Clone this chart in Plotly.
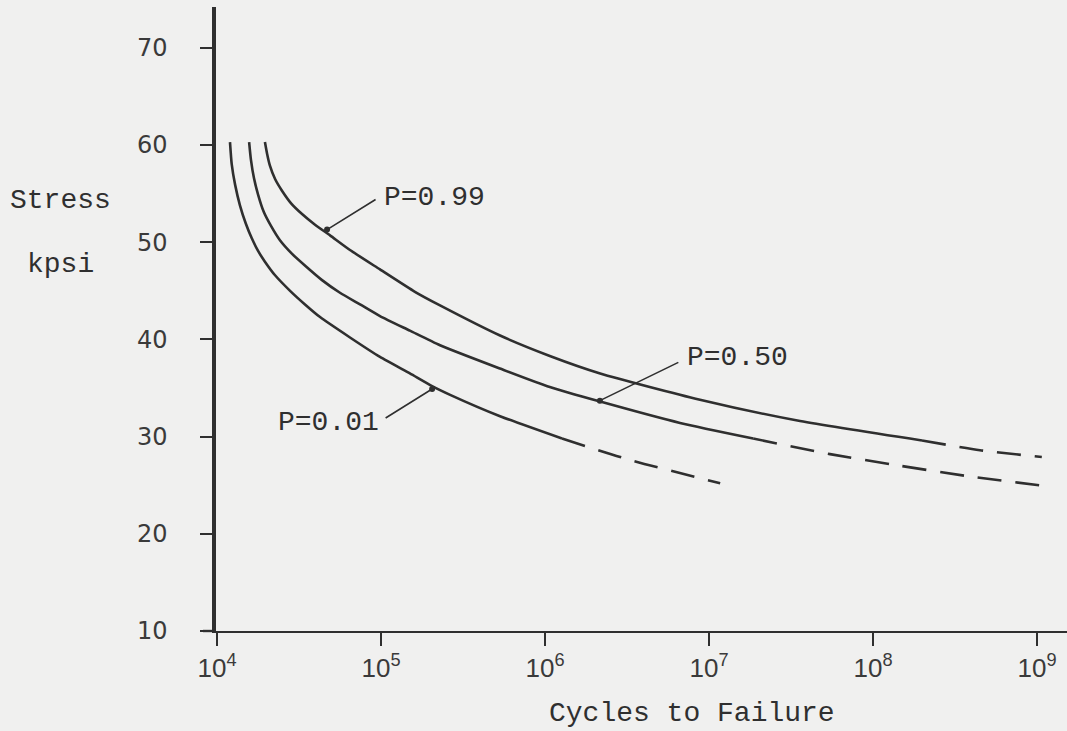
import numpy as np
import plotly.graph_objects as go

# S-N curves: stress (kpsi) against cycles to failure, for three survival probabilities
n_p01 = [1.20e4, 1.23e4, 1.29e4, 1.38e4, 1.50e4, 1.63e4, 1.78e4, 1.96e4, 2.26e4, 2.79e4,
         3.44e4, 4.25e4, 6.47e4, 9.86e4, 1.50e5, 2.05e5, 2.64e5, 5.32e5, 1.27e6]
s_p01 = [60.3, 58.0, 55.9, 53.8, 51.9, 50.4, 49.1, 48.0, 46.6, 45.0,
         43.6, 42.3, 40.2, 38.2, 36.5, 35.2, 34.3, 32.1, 29.8]
n_p01_ext = [1.27e6, 3.30e6, 1.17e7]
s_p01_ext = [29.8, 27.6, 25.2]

n_p50 = [1.57e4, 1.61e4, 1.68e4, 1.78e4, 1.93e4, 2.13e4, 2.42e4, 2.87e4, 3.49e4, 4.37e4,
         5.62e4, 7.45e4, 9.86e4, 1.50e5, 2.29e5, 5.32e5, 1.07e6, 2.17e6, 6.66e6, 1.86e7]
s_p50 = [60.3, 58.5, 56.6, 54.9, 53.1, 51.7, 50.2, 48.8, 47.5, 46.1,
         44.8, 43.6, 42.4, 40.9, 39.4, 37.0, 35.1, 33.6, 31.4, 29.8]
n_p50_ext = [1.86e7, 5.47e7, 1.46e8, 3.90e8, 1.15e9]
s_p50_ext = [29.8, 28.2, 27.0, 25.9, 24.9]

n_p99 = [1.96e4, 2.02e4, 2.10e4, 2.26e4, 2.49e4, 2.83e4, 3.30e4, 3.96e4, 4.89e4, 6.47e4,
         9.86e4, 1.61e5, 2.29e5, 5.32e5, 1.07e6, 2.17e6, 8.81e6, 3.59e7, 1.99e8]
s_p99 = [60.3, 59.1, 57.9, 56.5, 55.3, 54.0, 52.9, 51.8, 50.7, 49.2,
         47.2, 44.9, 43.5, 40.4, 38.3, 36.5, 33.8, 31.6, 29.6]
n_p99_ext = [1.99e8, 4.49e8, 1.07e9]
s_p99_ext = [29.6, 28.6, 27.9]

x_tick_vals = [1e4, 1e5, 1e6, 1e7, 1e8, 1e9]
x_tick_text = ["10<sup>4</sup>", "10<sup>5</sup>", "10<sup>6</sup>", "10<sup>7</sup>",
               "10<sup>8</sup>", "10<sup>9</sup>"]
y_tick_vals = [10, 20, 30, 40, 50, 60, 70]

# curve labels and the point on each curve their leader touches
label_text = ["P=0.99", "P=0.50", "P=0.01"]
label_n = [4.69e4, 2.16e6, 2.05e5]
label_s = [51.3, 33.7, 34.9]

# leader tail and label centre, as pixel offsets from that point
leader_dx = [50, 80, -48]
leader_dy = [-31, -39, 30]
text_dx = [107, 138, -104]
text_dy = [-32, -43, 34]

INK = "#2f2f2f"
BG = "#f0f0ef"
MONO = "Liberation Mono, Courier New, monospace"

fig = go.Figure()

def add_curve(xs, ys, dashed=False):
    fig.add_trace(go.Scatter(
        x=xs, y=ys, mode="lines",
        line=dict(color=INK, width=2.6, shape="spline", smoothing=0.6,
                  dash="24px,14px" if dashed else "solid"),
        hoverinfo="skip", showlegend=False))

add_curve(n_p01, s_p01)
add_curve(n_p01_ext, s_p01_ext, dashed=True)
add_curve(n_p50, s_p50)
add_curve(n_p50_ext, s_p50_ext, dashed=True)
add_curve(n_p99, s_p99)
add_curve(n_p99_ext, s_p99_ext, dashed=True)

# dots where the label leaders touch the curves
fig.add_trace(go.Scatter(
    x=label_n, y=label_s, mode="markers",
    marker=dict(color=INK, size=6), hoverinfo="skip", showlegend=False))

annotations = []
for text, nx, sy, lx, ly, tx, ty in zip(label_text, label_n, label_s,
                                         leader_dx, leader_dy, text_dx, text_dy):
    # leader line
    annotations.append(dict(
        x=np.log10(nx), y=sy, xref="x", yref="y", text="",
        showarrow=True, ax=lx, ay=ly, arrowhead=0,
        arrowwidth=1.6, arrowcolor=INK, standoff=0, startstandoff=0))
    # label text
    annotations.append(dict(
        x=np.log10(nx), y=sy, xref="x", yref="y", text=text,
        xshift=tx, yshift=-ty, showarrow=False,
        xanchor="center", yanchor="middle",
        font=dict(family=MONO, size=28, color=INK)))

# plot-area geometry in pixels
L, R, T, B = 216, 0, 7, 100
W, H = 1067, 731
pw, ph = W - L - R, H - T - B

def paper_x(px):
    return (px - L) / pw

def paper_y(py):
    return (H - py - B) / ph

# axis titles
for text, px, py in [("Stress", 60, 200), ("kpsi", 60, 264), ("Cycles to Failure", 692, 713)]:
    annotations.append(dict(
        x=paper_x(px), y=paper_y(py), xref="paper", yref="paper", text=text,
        xanchor="center", yanchor="middle", showarrow=False,
        font=dict(family=MONO, size=28, color=INK)))

# x-axis line runs a little past the y axis on the left
shapes = [dict(type="line", xref="paper", yref="paper",
               x0=-13 / pw, x1=0, y0=0, y1=0,
               line=dict(color=INK, width=2.4))]

fig.update_layout(
    width=W, height=H,
    margin=dict(l=L, r=R, t=T, b=B, pad=0),
    paper_bgcolor=BG, plot_bgcolor=BG,
    showlegend=False,
    annotations=annotations,
    shapes=shapes,
    xaxis=dict(
        type="log", range=[np.log10(1e4) - 1 / 164, 9.183],
        tickmode="array", tickvals=x_tick_vals, ticktext=x_tick_text,
        ticks="outside", ticklen=13, tickwidth=2, tickcolor=INK,
        showline=True, linecolor=INK, linewidth=2.4,
        showgrid=False, zeroline=False,
        tickfont=dict(family="Liberation Sans, Arial, sans-serif", size=26, color="#3a3a3a"),
    ),
    yaxis=dict(
        range=[10, 74.2],
        tickmode="array", tickvals=y_tick_vals,
        ticks="outside", ticklen=12, tickwidth=2.4, tickcolor=INK,
        ticklabelstandoff=28,
        showline=True, linecolor=INK, linewidth=3.5,
        showgrid=False, zeroline=False,
        tickfont=dict(family="DejaVu Sans, sans-serif", size=24, color="#3a3a3a"),
    ),
)

fig.write_html("out.html")
